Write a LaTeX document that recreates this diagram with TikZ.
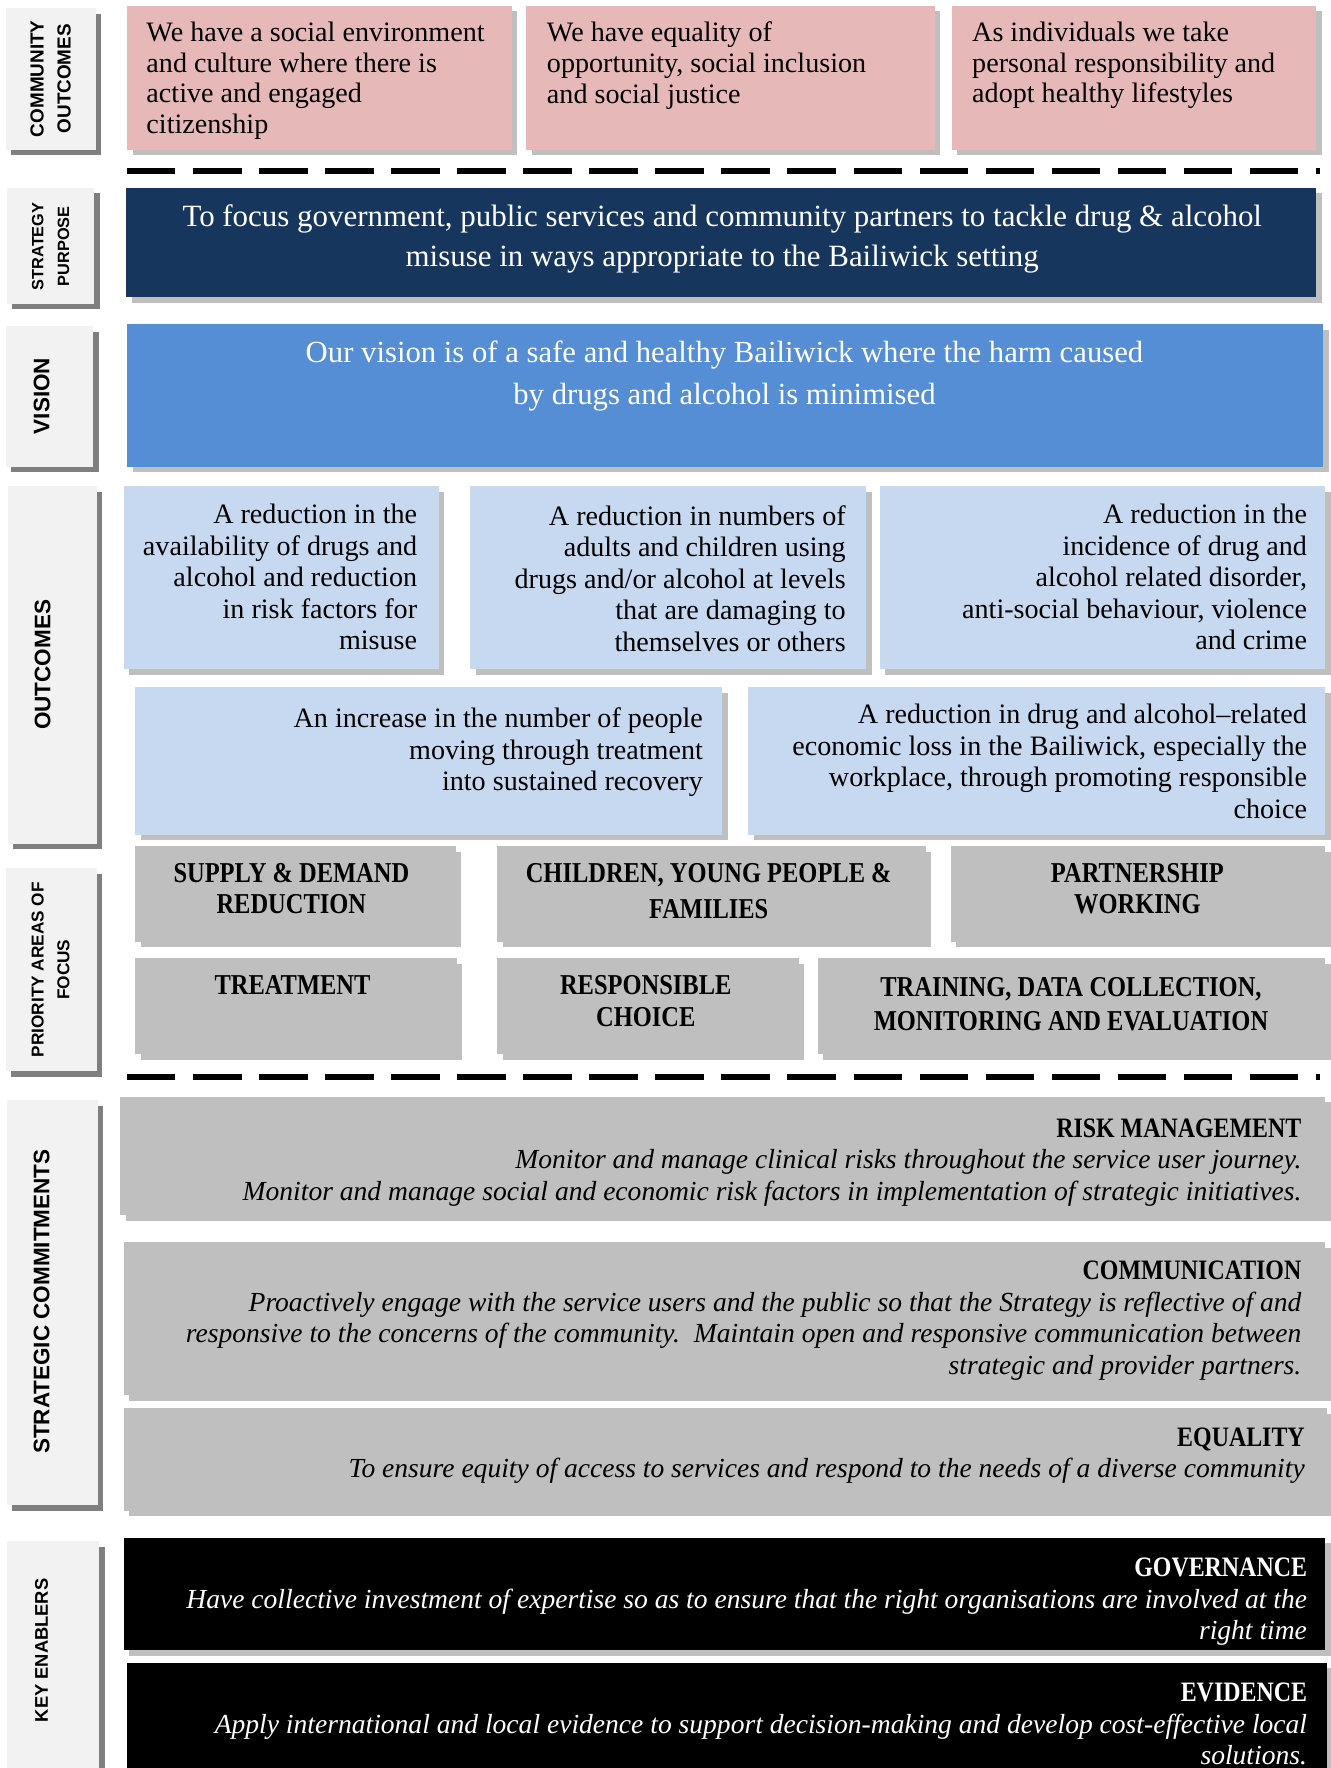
\documentclass[tikz,border=0pt]{standalone}
\usepackage{fontspec}
\setmainfont{Liberation Serif}
\newfontfamily\condserif{Liberation Serif}[FakeStretch=0.85]
\newfontfamily\labelsans{Liberation Sans}
\usetikzlibrary{shadows}
\definecolor{pinkc}{HTML}{E6B9B8}
\definecolor{navyc}{HTML}{17365D}
\definecolor{visc}{HTML}{558ED5}
\definecolor{lbluec}{HTML}{C6D9F1}
\definecolor{grayc}{HTML}{BFBFBF}
\definecolor{shgray}{HTML}{BFBFBF}
\definecolor{labfill}{HTML}{F2F2F2}
\definecolor{labshadow}{HTML}{7F7F7F}
\tikzset{
  cbox/.style={anchor=north west, inner sep=0pt, outer sep=0pt, draw=none},
  shad/.style={drop shadow={opacity=1, fill=#1, shadow xshift=5pt, shadow yshift=-5pt}},
  labbox/.style={cbox, fill=labfill, shad=labshadow},
  labtxt/.style={rotate=90, align=center, inner sep=0pt, text=black},
  pinktxt/.style={anchor=north west, align=left, inner sep=0pt, font=\fontsize{25}{27.5}\selectfont},
  outtxt/.style={anchor=north east, align=right, inner sep=0pt, font=\fontsize{25}{28}\selectfont},
  pritxt/.style={anchor=north, align=center, inner sep=0pt},
  comtxt/.style={anchor=north east, align=right, inner sep=0pt, font=\fontsize{24.5}{28}\selectfont},
  sepline/.style={line width=5.5pt, dash pattern=on 43pt off 15.7pt}
}
\newcommand{\cb}[1]{{\condserif\bfseries\fontsize{25}{28}\selectfont #1}}
\begin{document}
\begin{tikzpicture}[x=1pt,y=-1pt]
\useasboundingbox (0,0) rectangle (1183.1,1571.6);
% ---------- left labels ----------
\node[labbox, minimum width=80pt, minimum height=126pt] (l1) at (5,7) {};
\node[labtxt, font=\labelsans\bfseries\fontsize{16.8}{24}\selectfont] (l1t) at (45,70) {COMMUNITY\\OUTCOMES};
\node[labbox, minimum width=78pt, minimum height=103pt] (l2) at (6,167) {};
\node[labtxt, font=\labelsans\bfseries\fontsize{14.5}{23}\selectfont] (l2t) at (45,219) {STRATEGY\\PURPOSE};
\node[labbox, minimum width=78pt, minimum height=125pt] (l3) at (5,290) {};
\node[labtxt, font=\labelsans\bfseries\fontsize{20}{22}\selectfont] (l3t) at (37,352) {VISION};
\node[labbox, minimum width=79pt, minimum height=318pt] (l4) at (7,432) {};
\node[labtxt, font=\labelsans\bfseries\fontsize{20}{22}\selectfont] (l4t) at (38,591) {OUTCOMES};
\node[labbox, minimum width=81pt, minimum height=180pt] (l5) at (5,772) {};
\node[labtxt, font=\labelsans\bfseries\fontsize{15.3}{23}\selectfont] (l5t) at (45,862) {PRIORITY AREAS OF\\FOCUS};
\node[labbox, minimum width=81pt, minimum height=360pt] (l6) at (6,978) {};
\node[labtxt, font=\labelsans\bfseries\fontsize{20}{22}\selectfont] (l6t) at (37,1157) {STRATEGIC COMMITMENTS};
\node[labbox, minimum width=82pt, minimum height=215pt] (l7) at (6,1370) {};
\node[labtxt, font=\labelsans\bfseries\fontsize{16.3}{20}\selectfont] (l7t) at (37,1467) {KEY ENABLERS};
% ---------- community outcomes ----------
\node[cbox, fill=pinkc, shad=shgray, minimum width=342pt, minimum height=128pt] (p1) at (113,5) {};
\node[cbox, fill=pinkc, shad=shgray, minimum width=363pt, minimum height=128pt] (p2) at (468,5) {};
\node[cbox, fill=pinkc, shad=shgray, minimum width=324pt, minimum height=128pt] (p3) at (846,5) {};
\node[pinktxt] (p1t) at (130,19) {We have a social environment\\and culture where there is\\active and engaged\\citizenship};
\node[pinktxt] (p2t) at (486,19) {We have equality of\\opportunity, social inclusion\\and social justice};
\node[pinktxt] (p3t) at (864,19) {As individuals we take\\personal responsibility and\\adopt healthy lifestyles};
% separator 1
\coordinate (d1a) at (113,152);
\coordinate (d1b) at (1173,152);
\draw[sepline] (d1a) -- (d1b);
% ---------- strategy purpose ----------
\node[cbox, fill=navyc, shad=shgray, minimum width=1058pt, minimum height=97pt] (sp) at (112,167) {};
\node[anchor=north, align=center, inner sep=0pt, text=white, font=\fontsize{27.5}{35}\selectfont] (spt) at (642,182) {To focus government, public services and community partners to tackle drug \& alcohol\\misuse in ways appropriate to the Bailiwick setting};
% ---------- vision ----------
\node[cbox, fill=visc, shad=shgray, minimum width=1063pt, minimum height=127pt] (vi) at (113,288) {};
\node[anchor=north, align=center, inner sep=0pt, text=white, font=\fontsize{27.3}{37}\selectfont] (vit) at (644,303) {Our vision is of a safe and healthy Bailiwick where the harm caused\\by drugs and alcohol is minimised};
% ---------- outcomes ----------
\node[cbox, fill=lbluec, shad=shgray, minimum width=280pt, minimum height=163pt] (o1) at (110,432) {};
\node[cbox, fill=lbluec, shad=shgray, minimum width=352pt, minimum height=163pt] (o2) at (418,432) {};
\node[cbox, fill=lbluec, shad=shgray, minimum width=396pt, minimum height=163pt] (o3) at (782,432) {};
\node[cbox, fill=lbluec, shad=shgray, minimum width=522pt, minimum height=131pt] (o4) at (120,611) {};
\node[cbox, fill=lbluec, shad=shgray, minimum width=513pt, minimum height=131pt] (o5) at (665,611) {};
\node[outtxt] (o1t) at (371,448) {A reduction in the\\availability of drugs and\\alcohol and reduction\\in risk factors for\\misuse};
\node[outtxt] (o2t) at (752,449) {A reduction in numbers of\\adults and children using\\drugs and/or alcohol at levels\\that are damaging to\\themselves or others};
\node[outtxt] (o3t) at (1162,448) {A reduction in the\\incidence of drug and\\alcohol related disorder,\\anti-social behaviour, violence\\and crime};
\node[outtxt] (o4t) at (625,629) {An increase in the number of people\\moving through treatment\\into sustained recovery};
\node[outtxt] (o5t) at (1162,626) {A reduction in drug and alcohol–related\\economic loss in the Bailiwick, especially the\\workplace, through promoting responsible\\choice};
% ---------- priority areas ----------
\node[cbox, fill=grayc, shad=shgray, minimum width=285pt, minimum height=85pt] (s1) at (120,752) {};
\node[cbox, fill=grayc, shad=shgray, minimum width=381pt, minimum height=85pt] (s2) at (442,752) {};
\node[cbox, fill=grayc, shad=shgray, minimum width=333pt, minimum height=85pt] (s3) at (845,752) {};
\node[cbox, fill=grayc, shad=shgray, minimum width=286pt, minimum height=85pt] (s4) at (120,852) {};
\node[cbox, fill=grayc, shad=shgray, minimum width=268pt, minimum height=85pt] (s5) at (442,852) {};
\node[cbox, fill=grayc, shad=shgray, minimum width=451pt, minimum height=85pt] (s6) at (727,852) {};
\node[pritxt, font=\condserif\bfseries\fontsize{25.6}{28}\selectfont] (s1t) at (259,767) {SUPPLY \& DEMAND\\REDUCTION};
\node[pritxt, font=\condserif\bfseries\fontsize{25.6}{32}\selectfont] (s2t) at (630,767) {CHILDREN, YOUNG PEOPLE \&\\FAMILIES};
\node[pritxt, font=\condserif\bfseries\fontsize{25.6}{28}\selectfont] (s3t) at (1011,767) {PARTNERSHIP\\WORKING};
\node[pritxt, font=\condserif\bfseries\fontsize{25.6}{28}\selectfont] (s4t) at (260,867) {TREATMENT};
\node[pritxt, font=\condserif\bfseries\fontsize{25.6}{28}\selectfont] (s5t) at (574,867) {RESPONSIBLE\\CHOICE};
\node[pritxt, font=\condserif\bfseries\fontsize{25.6}{30}\selectfont] (s6t) at (952,869) {TRAINING, DATA COLLECTION,\\MONITORING AND EVALUATION};
% separator 2
\coordinate (d2a) at (113,957);
\coordinate (d2b) at (1173,957);
\draw[sepline] (d2a) -- (d2b);
% ---------- strategic commitments ----------
\node[cbox, fill=grayc, shad=shgray, minimum width=1071pt, minimum height=105pt] (rm) at (107,975) {};
\node[cbox, fill=grayc, shad=shgray, minimum width=1068pt, minimum height=136pt] (cm) at (110,1104) {};
\node[cbox, fill=grayc, shad=shgray, minimum width=1070pt, minimum height=91pt] (eq) at (110,1252) {};
\node[comtxt] (rmt) at (1157,994) {\cb{RISK MANAGEMENT}\\{\itshape Monitor and manage clinical risks throughout the service user journey.}\\{\itshape Monitor and manage social and economic risk factors in implementation of strategic initiatives.}};
\node[comtxt] (cmt) at (1157,1121) {\cb{COMMUNICATION}\\{\itshape Proactively engage with the service users and the public so that the Strategy is reflective of and}\\{\itshape responsive to the concerns of the community.\ \ Maintain open and responsive communication between}\\{\itshape strategic and provider partners.}};
\node[comtxt] (eqt) at (1160,1269) {\cb{EQUALITY}\\{\itshape To ensure equity of access to services and respond to the needs of a diverse community}};
% ---------- key enablers ----------
\node[cbox, fill=black, shad=shgray, minimum width=1068pt, minimum height=100pt] (gv) at (110,1367) {};
\node[cbox, fill=black, shad=shgray, minimum width=1067pt, minimum height=110pt] (ev) at (113,1478) {};
\node[comtxt, text=white] (gvt) at (1162,1385) {\cb{GOVERNANCE}\\{\itshape Have collective investment of expertise so as to ensure that the right organisations are involved at the}\\{\itshape right time}};
\node[comtxt, text=white] (evt) at (1162,1496) {\cb{EVIDENCE}\\{\itshape Apply international and local evidence to support decision-making and develop cost-effective local}\\{\itshape solutions.}};
\end{tikzpicture}
\end{document}
